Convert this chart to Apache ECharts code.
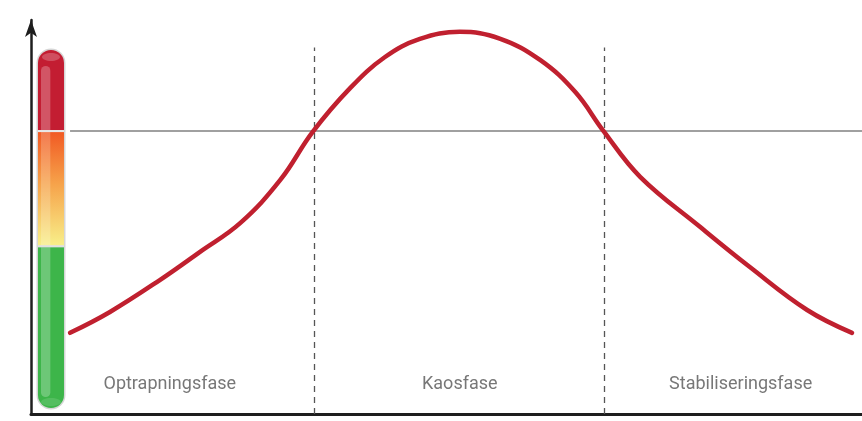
<!DOCTYPE html>
<html>
<head>
<meta charset="utf-8">
<script src="https://cdn.jsdelivr.net/npm/echarts/dist/echarts.min.js"></script>
<style>
  html, body { margin: 0; padding: 0; background: #fff; }
  #chart { width: 862px; height: 421px; }
</style>
</head>
<body>
<div id="chart"></div>
<script>
// curve: phase position (0-100) vs intensity (0-100)
var curveX = [4.7, 9.5, 15.5, 20.3, 25.2, 30.0, 33.9, 38.4, 42.6, 46.8, 51.6, 56.4, 61.3, 65.5, 68.9, 73.3, 80.5, 86.5, 93.4, 98.8];
var curveY = [20.6, 25.9, 34.0, 41.1, 48.5, 59.4, 71.6, 82.7, 90.6, 95.2, 97.0, 95.3, 89.8, 81.7, 71.8, 60.2, 47.5, 37.3, 26.4, 20.6];

// phase borders and names
var phaseBorders = [34.1, 69.0];
var phaseNames = ["Optrapningsfase", "Kaosfase", "Stabiliseringsfase"];
var phaseCenters = [16.7, 51.6, 85.4];
var phaseLabelY = 7.4;

// threshold line
var threshold = 72;
var thresholdStart = 4.7;
var borderTop = 93;

// gauge column on the left: bottom, green/yellow, orange/red, top
var gaugeStops = [1.5, 42.6, 71.8, 92.4];
var gaugeX = [0.84, 3.97];

var curveData = curveX.map(function (x, i) { return [x, curveY[i]]; });

var chart = echarts.init(document.getElementById("chart"));

function renderGauge(params, api) {
  var left = api.coord([gaugeX[0], 0])[0];
  var right = api.coord([gaugeX[1], 0])[0];
  var ys = gaugeStops.map(function (v) { return api.coord([0, v])[1]; });
  var w = right - left;
  var r = w / 2;
  var hl = w * 0.36; // highlight stripe width
  var kids = [];
  // outline
  kids.push({
    type: "rect",
    shape: { x: left - 1.5, y: ys[3] - 1.5, width: w + 3, height: ys[0] - ys[3] + 3, r: r + 1.5 },
    style: { fill: "#d6d6d6" }
  });
  // green
  kids.push({
    type: "rect",
    shape: { x: left, y: ys[1] + 1, width: w, height: ys[0] - ys[1] - 1, r: [0, 0, r, r] },
    style: { fill: "#3db54a" }
  });
  kids.push({
    type: "rect",
    shape: { x: left + 3, y: ys[1] + 1, width: hl, height: ys[0] - ys[1] - 12, r: [0, 0, hl / 2, hl / 2] },
    style: { fill: "rgba(255,255,255,0.25)" }
  });
  kids.push({
    type: "ellipse",
    shape: { cx: left + w / 2, cy: ys[0] - 6, rx: w / 2 - 3, ry: 4 },
    style: { fill: "rgba(255,255,255,0.12)" }
  });
  // orange to yellow
  kids.push({
    type: "rect",
    shape: { x: left, y: ys[2] + 1, width: w, height: ys[1] - ys[2] - 1 },
    style: {
      fill: new echarts.graphic.LinearGradient(0, 0, 0, 1, [
        { offset: 0, color: "#f15a24" },
        { offset: 0.45, color: "#f6a24a" },
        { offset: 1, color: "#f8f08a" }
      ])
    }
  });
  kids.push({
    type: "rect",
    shape: { x: left + 3, y: ys[2] + 1, width: hl, height: ys[1] - ys[2] - 1 },
    style: { fill: "rgba(255,255,255,0.2)" }
  });
  // red top
  kids.push({
    type: "rect",
    shape: { x: left, y: ys[3], width: w, height: ys[2] - ys[3] - 1, r: [r, r, 0, 0] },
    style: { fill: "#c31d32" }
  });
  kids.push({
    type: "rect",
    shape: { x: left + 3, y: ys[3] + 16, width: hl, height: ys[2] - ys[3] - 17, r: [hl / 2, hl / 2, 0, 0] },
    style: { fill: "rgba(255,255,255,0.25)" }
  });
  kids.push({
    type: "ellipse",
    shape: { cx: left + w / 2, cy: ys[3] + 7, rx: w / 2 - 4, ry: 4 },
    style: { fill: "rgba(255,255,255,0.22)" }
  });
  // separators
  kids.push({
    type: "rect",
    shape: { x: left, y: ys[2] - 1, width: w, height: 2 },
    style: { fill: "#e8e8e8" }
  });
  kids.push({
    type: "rect",
    shape: { x: left, y: ys[1] - 1, width: w, height: 2 },
    style: { fill: "#e0e0e0" }
  });
  return { type: "group", children: kids };
}

chart.setOption({
  animation: false,
  grid: { left: 31, right: 0, top: 20, bottom: 7 },
  xAxis: {
    type: "value",
    min: 0,
    max: 100,
    axisLine: { show: true, onZero: false, lineStyle: { color: "#1e1e1e", width: 3 } },
    axisTick: { show: false },
    axisLabel: { show: false },
    splitLine: { show: false }
  },
  yAxis: {
    type: "value",
    min: 0,
    max: 100,
    axisLine: {
      show: true,
      onZero: false,
      symbol: ["none", "arrow"],
      symbolSize: [9, 17],
      lineStyle: { color: "#1e1e1e", width: 2.5 }
    },
    axisTick: { show: false },
    axisLabel: { show: false },
    splitLine: { show: false }
  },
  series: [
    {
      type: "custom",
      renderItem: renderGauge,
      data: [[0, 0]],
      clip: false,
      z: 3
    },
    {
      type: "line",
      data: curveData,
      smooth: 0.4,
      showSymbol: false,
      lineStyle: { color: "#c0202f", width: 4.5, cap: "round" },
      z: 5,
      markLine: {
        silent: true,
        symbol: ["none", "none"],
        label: { show: false },
        data: [
          [
            { coord: [thresholdStart, threshold], lineStyle: { color: "#808080", width: 1.5, type: "solid" } },
            { coord: [100, threshold] }
          ],
          [
            { coord: [phaseBorders[0], 0], lineStyle: { color: "#555", width: 1.3, type: [6, 5] } },
            { coord: [phaseBorders[0], borderTop] }
          ],
          [
            { coord: [phaseBorders[1], 0], lineStyle: { color: "#555", width: 1.3, type: [6, 5] } },
            { coord: [phaseBorders[1], borderTop] }
          ]
        ]
      }
    },
    {
      type: "scatter",
      symbolSize: 0,
      data: phaseNames.map(function (n, i) { return { name: n, value: [phaseCenters[i], phaseLabelY] }; }),
      label: {
        show: true,
        position: "inside",
        formatter: "{b}",
        color: "#555",
        fontSize: 18,
        fontFamily: "Roboto"
      },
      silent: true
    }
  ]
});
</script>
</body>
</html>
